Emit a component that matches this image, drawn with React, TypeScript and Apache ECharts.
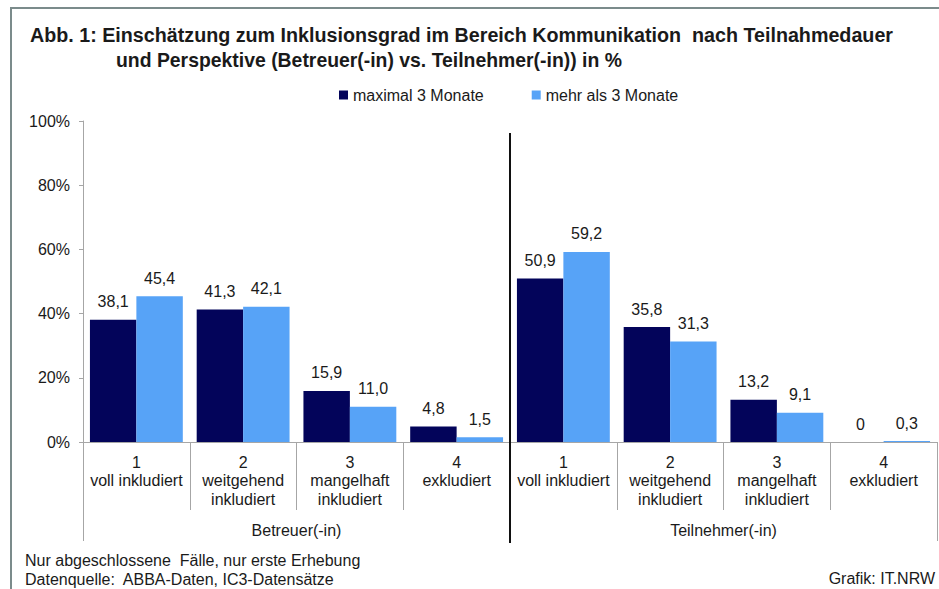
import React, { useEffect, useRef } from "react";
import * as echarts from "echarts";

const levels = [
  "1\nvoll inkludiert",
  "2\nweitgehend\ninkludiert",
  "3\nmangelhaft\ninkludiert",
  "4\nexkludiert",
];
const groups = ["Betreuer(-in)", "Teilnehmer(-in)"];
const seriesNames = ["maximal 3 Monate", "mehr als 3 Monate"];
const maxThree = [38.1, 41.3, 15.9, 4.8, 50.9, 35.8, 13.2, 0];
const overThree = [45.4, 42.1, 11.0, 1.5, 59.2, 31.3, 9.1, 0.3];
const yMin = 0;
const yMax = 100;
const yStep = 20;

const titleLine1 =
  "Abb. 1: Einschätzung zum Inklusionsgrad im Bereich Kommunikation  nach Teilnahmedauer";
const titleLine2 = "und Perspektive (Betreuer(-in) vs. Teilnehmer(-in)) in %";
const note1 = "Nur abgeschlossene  Fälle, nur erste Erhebung";
const note2 = "Datenquelle:  ABBA-Daten, IC3-Datensätze";
const credit = "Grafik: IT.NRW";

const categories = groups.flatMap((g) => levels.map((l) => g + "|" + l));

const FONT = "'Liberation Sans', Arial, sans-serif";
const TEXT = "#1a1a1a";
const AXIS = "#a6a6a6";
const FRAME = "#7b8b8b";

const fmt = (v: number) => (v === 0 ? "0" : v.toFixed(1).replace(".", ","));

export default function App() {
  const ref = useRef<HTMLDivElement>(null);
  useEffect(() => {
    if (!ref.current) return;
    const chart = echarts.init(ref.current, undefined, { renderer: "svg" });
    const labelCfg = {
      show: true,
      position: "top" as const,
      distance: 10,
      fontFamily: FONT,
      fontSize: 16,
      color: TEXT,
      formatter: (p: any) => fmt(p.value),
    };
    chart.setOption({
      animation: false,
      backgroundColor: "#ffffff",
      legend: {
        top: 86,
        left: 339,
        padding: 0,
        itemWidth: 9,
        itemHeight: 9,
        itemGap: 48,
        icon: "rect",
        textStyle: { fontFamily: FONT, fontSize: 16, color: TEXT, lineHeight: 18 },
        data: seriesNames,
      },
      grid: { left: 83, right: 2, top: 121, bottom: 147 },
      xAxis: [
        {
          type: "category",
          data: categories,
          axisLine: { show: true, lineStyle: { color: AXIS, width: 1 } },
          axisTick: { show: true, interval: 0, length: 68, lineStyle: { color: AXIS } },
          axisLabel: {
            interval: 0,
            margin: 11,
            fontFamily: FONT,
            fontSize: 16,
            color: TEXT,
            lineHeight: 18.5,
            formatter: (v: string) => v.split("|")[1],
          },
        },
        {
          type: "category",
          data: groups,
          position: "bottom",
          axisLine: { show: false },
          axisTick: { show: true, interval: 0, length: 99, lineStyle: { color: AXIS } },
          axisLabel: {
            interval: 0,
            margin: 80,
            fontFamily: FONT,
            fontSize: 16,
            color: TEXT,
          },
        },
      ],
      yAxis: {
        type: "value",
        min: yMin,
        max: yMax,
        interval: yStep,
        axisLine: { show: true, lineStyle: { color: AXIS } },
        axisTick: { show: true, length: 4, lineStyle: { color: AXIS } },
        splitLine: { show: false },
        axisLabel: {
          margin: 13,
          fontFamily: FONT,
          fontSize: 16,
          color: TEXT,
          formatter: "{value}%",
        },
      },
      series: [
        {
          name: seriesNames[0],
          type: "bar",
          data: maxThree,
          barGap: "0%",
          barCategoryGap: "13%",
          itemStyle: { color: "#03045a" },
          label: labelCfg,
        },
        {
          name: seriesNames[1],
          type: "bar",
          data: overThree,
          barGap: "0%",
          barCategoryGap: "13%",
          itemStyle: { color: "#57a3f7" },
          label: labelCfg,
        },
      ],
      graphic: [
        { id: "frameTop", type: "line", shape: { x1: 10, y1: 8, x2: 939, y2: 8 }, style: { stroke: FRAME, lineWidth: 2 } },
        { id: "frameLeft", type: "line", shape: { x1: 11, y1: 7, x2: 11, y2: 589 }, style: { stroke: FRAME, lineWidth: 2 } },
        {
          id: "title1",
          type: "text",
          x: 30,
          y: 25,
          scaleX: 0.985,
          style: {
            text: titleLine1,
            font: `bold 20px ${FONT}`,
            fill: TEXT,
            verticalAlign: "top",
          },
        },
        {
          id: "title2",
          type: "text",
          x: 116,
          y: 50,
          scaleX: 0.97,
          style: {
            text: titleLine2,
            font: `bold 20px ${FONT}`,
            fill: TEXT,
            verticalAlign: "top",
          },
        },
        {
          id: "note1",
          type: "text",
          left: 25,
          top: 552,
          style: { text: note1, font: `16px ${FONT}`, fill: TEXT },
        },
        {
          id: "note2",
          type: "text",
          left: 25,
          top: 571,
          style: { text: note2, font: `16px ${FONT}`, fill: TEXT },
        },
        {
          id: "credit",
          type: "text",
          right: 4,
          top: 570,
          style: { text: credit, font: `16px ${FONT}`, fill: TEXT },
        },
      ],
    });
    const xa = chart.convertToPixel({ xAxisIndex: 0 }, 3) as number;
    const xb = chart.convertToPixel({ xAxisIndex: 0 }, 4) as number;
    const xs = (xa + xb) / 2;
    chart.setOption({
      graphic: [
        {
          id: "separator",
          type: "line",
          shape: { x1: xs, y1: 133, x2: xs, y2: 543 },
          style: { stroke: "#111111", lineWidth: 2 },
          z: 10,
        },
      ],
    });
    return () => chart.dispose();
  }, []);
  return (
    <div
      ref={ref}
      style={{ position: "fixed", left: 0, top: 0, width: 939, height: 589 }}
    />
  );
}
